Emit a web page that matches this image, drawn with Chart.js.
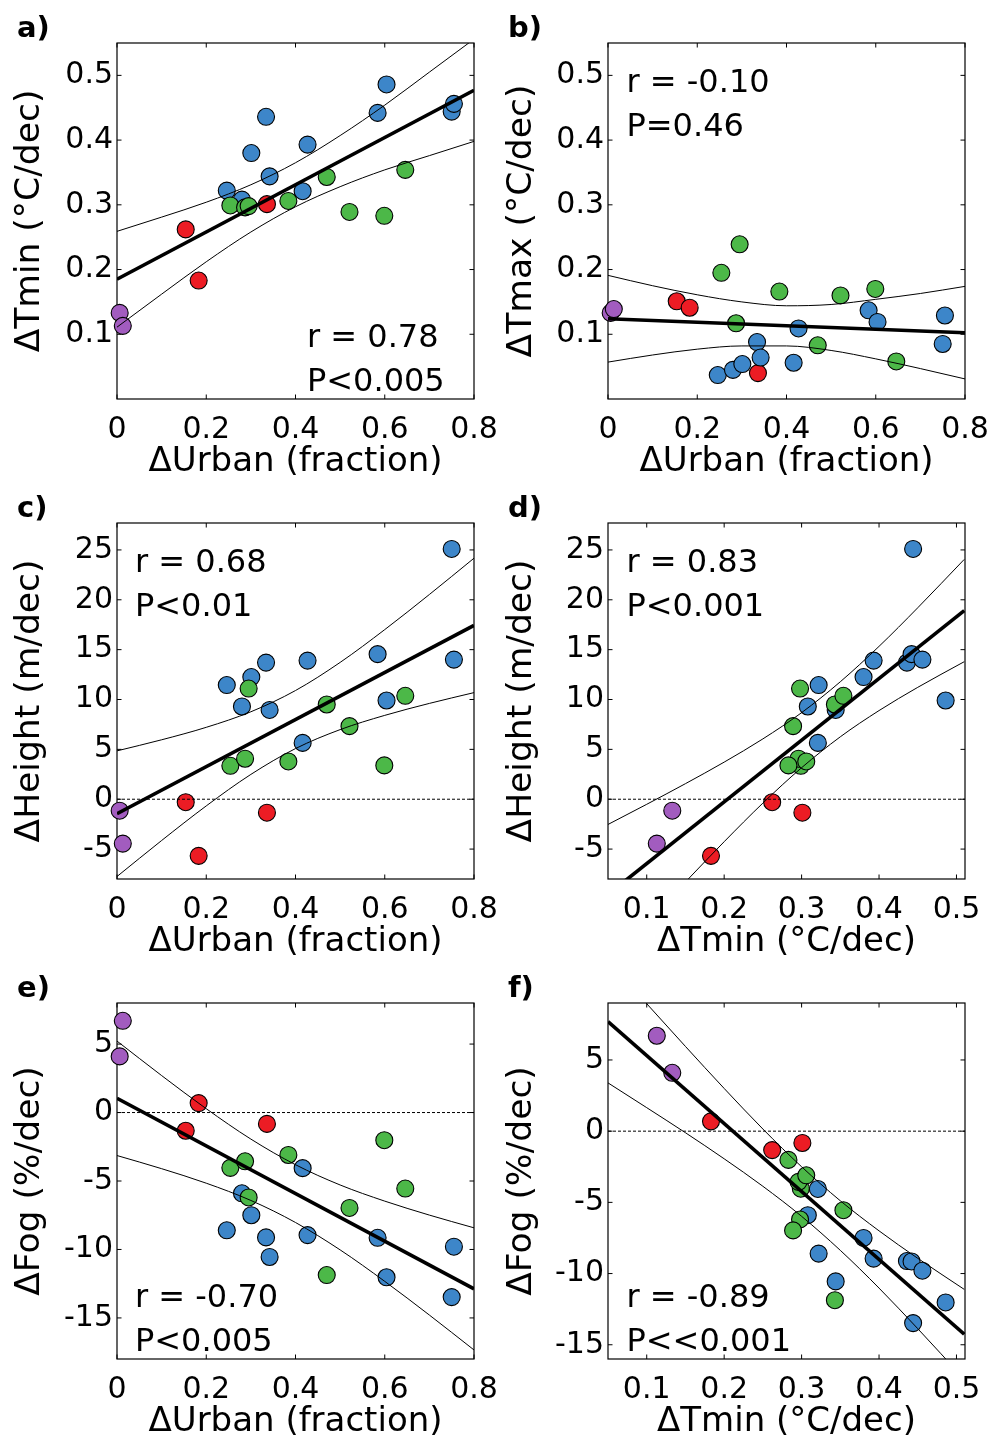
<!DOCTYPE html>
<html>
<head>
<meta charset="utf-8">
<script src="https://cdn.jsdelivr.net/npm/chart.js@4.4.1/dist/chart.umd.min.js"></script>
<style>
    html, body { margin: 0; padding: 0; background: #fff; }
    #wrap { position: relative; width: 994px; height: 1445px; overflow: hidden; }
    .panel { position: absolute; width: 500px; height: 480px; }
</style>
</head>
<body>
<div id="wrap">
    <div class="panel" style="left:0;top:0"><canvas id="chartA" width="500" height="480"></canvas></div>
    <div class="panel" style="left:492px;top:0"><canvas id="chartB" width="500" height="480"></canvas></div>
    <div class="panel" style="left:0;top:480px"><canvas id="chartC" width="500" height="480"></canvas></div>
    <div class="panel" style="left:492px;top:480px"><canvas id="chartD" width="500" height="480"></canvas></div>
    <div class="panel" style="left:0;top:960px"><canvas id="chartE" width="500" height="480"></canvas></div>
    <div class="panel" style="left:492px;top:960px"><canvas id="chartF" width="500" height="480"></canvas></div>
</div>
<script>
// --- STATION DATA (one entry per station, same order in every array) ---
const group  = ['P','P','R','R','R','B','B','B','B','B','B','B','B','B','B','B','G','G','G','G','G','G','G','G'];
const urban  = [0.006, 0.013, 0.154, 0.183, 0.336, 0.246, 0.280, 0.301, 0.334, 0.342, 0.416, 0.427, 0.584, 0.604, 0.750, 0.755, 0.254, 0.287, 0.295, 0.384, 0.470, 0.521, 0.599, 0.646];
const tmin   = [0.133, 0.113, 0.262, 0.183, 0.301, 0.322, 0.308, 0.380, 0.436, 0.344, 0.321, 0.393, 0.442, 0.486, 0.444, 0.456, 0.299, 0.296, 0.298, 0.306, 0.343, 0.289, 0.283, 0.354];
const tmax   = [0.133, 0.139, 0.151, 0.141, 0.040, 0.037, 0.045, 0.054, 0.088, 0.064, 0.056, 0.109, 0.137, 0.119, 0.085, 0.129, 0.195, 0.117, 0.239, 0.166, 0.083, 0.160, 0.170, 0.058];
const height = [-1.15, -4.45, -0.3, -5.68, -1.35, 11.45, 9.3, 12.25, 13.7, 8.95, 5.65, 13.9, 14.55, 9.9, 25.1, 14.0, 3.35, 4.06, 11.1, 3.79, 9.5, 7.33, 3.39, 10.37];
const fog    = [4.1, 6.7, -1.33, 0.69, -0.83, -8.6, -5.9, -7.5, -9.12, -10.55, -4.06, -8.95, -9.15, -12.03, -13.48, -9.8, -4.04, -3.56, -6.2, -3.1, -11.87, -6.97, -2.02, -5.55];

// --- REGRESSION LINES AND CONFIDENCE BANDS ---
const urbanGrid = [0, 0.1, 0.2, 0.3, 0.4, 0.5, 0.6, 0.7, 0.8];
const tminGrid  = [0.05, 0.1, 0.15, 0.2, 0.25, 0.3, 0.35, 0.4, 0.45, 0.51];
const urbanEnds = [0, 0.8];
const tminEnds  = [0.05, 0.51];

const fitA = [0.185, 0.477];
const upA  = [0.259, 0.281, 0.304, 0.331, 0.365, 0.407, 0.454, 0.505, 0.556];
const loA  = [0.111, 0.162, 0.212, 0.258, 0.297, 0.328, 0.354, 0.376, 0.398];

const fitB = [0.124, 0.1024];
const upB  = [0.191, 0.175, 0.161, 0.150, 0.144, 0.146, 0.154, 0.163, 0.174];
const loB  = [0.057, 0.068, 0.077, 0.082, 0.082, 0.075, 0.062, 0.047, 0.031];

const fitC = [-1.45, 17.43];
const upC  = [4.85, 5.96, 7.21, 8.77, 10.90, 13.72, 17.01, 20.53, 24.17];
const loC  = [-7.75, -4.14, -0.67, 2.49, 5.08, 6.98, 8.41, 9.61, 10.69];

const fitD = [-9.55, 18.92];
const upD  = [-2.53, -0.51, 1.56, 3.72, 6.05, 8.68, 11.78, 15.33, 19.20, 24.05];
const loD  = [-16.57, -12.41, -8.30, -4.26, -0.39, 3.16, 6.26, 8.89, 11.22, 13.79];

const fitE = [1.04, -12.88];
const upE  = [5.22, 2.70, 0.28, -1.94, -3.81, -5.29, -6.47, -7.49, -8.42];
const loE  = [-3.14, -4.10, -5.16, -6.42, -8.03, -10.03, -12.33, -14.79, -17.34];

const fitF = [7.69, -14.26];
const upF  = [11.99, 8.95, 5.95, 3.00, 0.15, -2.50, -4.89, -7.00, -8.93, -11.11];
const loF  = [3.39, 1.65, -0.11, -1.94, -3.87, -5.98, -8.37, -11.02, -13.87, -17.41];

// --- AXES ---
const urbanTicks  = [0, 0.2, 0.4, 0.6, 0.8];
const tminXTicks  = [0.1, 0.2, 0.3, 0.4, 0.5];
const tempYTicks  = [0.1, 0.2, 0.3, 0.4, 0.5];
const heightTicks = [-5, 0, 5, 10, 15, 20, 25];
const fogTicksE   = [-15, -10, -5, 0, 5];
const fogTicksF   = [-15, -10, -5, 0, 5];

const colors = { P: '#a25cbf', R: '#ec1c24', B: '#3d86c9', G: '#4cb848' };
const FONT = '"DejaVu Sans", Verdana, sans-serif';

Chart.defaults.font.family = FONT;
Chart.defaults.color = '#000';

// frame, inward ticks, stats text and panel letter
const framePlugin = {
    id: 'frame',
    beforeDatasetsDraw(chart) {
        const { ctx, chartArea: a, scales: { x, y } } = chart;
        ctx.save();
        ctx.strokeStyle = '#000';
        ctx.lineWidth = 1.2;
        ctx.strokeRect(a.left, a.top, a.right - a.left, a.bottom - a.top);
        ctx.lineWidth = 1;
        ctx.beginPath();
        x.ticks.forEach(t => {
            const px = x.getPixelForValue(t.value);
            ctx.moveTo(px, a.bottom); ctx.lineTo(px, a.bottom - 4.5);
            ctx.moveTo(px, a.top); ctx.lineTo(px, a.top + 4.5);
        });
        y.ticks.forEach(t => {
            const py = y.getPixelForValue(t.value);
            ctx.moveTo(a.left, py); ctx.lineTo(a.left + 4.5, py);
            ctx.moveTo(a.right, py); ctx.lineTo(a.right - 4.5, py);
        });
        ctx.stroke();
        ctx.restore();
    },
    afterDraw(chart, args, opts) {
        const { ctx, chartArea: a } = chart;
        ctx.save();
        ctx.fillStyle = '#000';
        ctx.textBaseline = 'alphabetic';
        ctx.textAlign = 'left';
        ctx.font = 'bold 29px ' + FONT;
        ctx.fillText(opts.label, a.left - 100, a.top - 6);
        ctx.font = '32px ' + FONT;
        ctx.fillText(opts.notes[0], a.left + opts.noteX, a.top + opts.noteY);
        ctx.fillText(opts.notes[1], a.left + opts.noteX, a.top + opts.noteY + 43.5);
        ctx.restore();
    }
};

function makePanel(id, p) {
    const points = p.xs.map((v, i) => ({ x: v, y: p.ys[i] }));
    const curve = (xs, ys) => xs.map((v, i) => ({ x: v, y: ys[i] }));

    const datasets = [
        {   // regression
            type: 'line', data: curve(p.ends, p.fit), borderColor: '#000', borderWidth: 3.6,
            pointRadius: 0, fill: false, order: 0, clip: 0
        },
        {
            type: 'line', data: curve(p.grid, p.up), borderColor: '#000', borderWidth: 1,
            pointRadius: 0, fill: false, cubicInterpolationMode: 'monotone', order: 0, clip: 0
        },
        {
            type: 'line', data: curve(p.grid, p.lo), borderColor: '#000', borderWidth: 1,
            pointRadius: 0, fill: false, cubicInterpolationMode: 'monotone', order: 0, clip: 0
        },
        {   // stations
            type: 'scatter', data: points,
            backgroundColor: group.map(g => colors[g]),
            borderColor: '#000', borderWidth: 1.1, pointRadius: 8.5,
            order: 2, clip: false
        }
    ];
    if (p.zero) {
        datasets.push({
            type: 'line', data: curve([p.xMin, p.xMax], [0, 0]), borderColor: '#000', borderWidth: 1,
            borderDash: [3, 2], pointRadius: 0, fill: false, order: 1, clip: 0
        });
    }

    new Chart(document.getElementById(id), {
        type: 'scatter',
        data: { datasets },
        plugins: [framePlugin],
        options: {
            responsive: false,
            animation: false,
            events: [],
            layout: { padding: { left: 0, top: 43, right: p.padRight, bottom: 0 } },
            plugins: {
                legend: { display: false },
                tooltip: { enabled: false },
                frame: { label: p.label, notes: p.notes, noteX: p.noteX, noteY: p.noteY }
            },
            scales: {
                x: {
                    type: 'linear', min: p.xMin, max: p.xMax,
                    afterBuildTicks: s => { s.ticks = p.xTicks.map(v => ({ value: v })); },
                    // fixed box: no extra room for overhanging labels
                    afterFit: s => { s.height = 81; s.paddingLeft = 0; s.paddingRight = 0; },
                    ticks: { font: { size: 30 }, color: '#000', padding: 13, maxRotation: 0, autoSkip: false, callback: v => String(v) },
                    grid: { display: false, drawTicks: false },
                    border: { display: false },
                    title: { display: true, text: p.xTitle, color: '#000', font: { size: 34, lineHeight: 1 }, padding: { top: 0, bottom: 1 } }
                },
                y: {
                    type: 'linear', min: p.yMin, max: p.yMax,
                    afterBuildTicks: s => { s.ticks = p.yTicks.map(v => ({ value: v })); },
                    afterFit: s => { s.width = p.yWidth; s.paddingTop = 0; s.paddingBottom = 0; },
                    ticks: { font: { size: 30 }, color: '#000', padding: 4, autoSkip: false, callback: v => String(v) },
                    grid: { display: false, drawTicks: false },
                    border: { display: false },
                    title: { display: true, text: p.yTitle, color: '#000', font: { size: 34.5, lineHeight: 1 }, padding: { top: 13, bottom: 0 } }
                }
            }
        }
    });
}

const urbanTitle = 'ΔUrban (fraction)';
const tminTitle = 'ΔTmin (°C/dec)';

makePanel('chartA', {
    label: 'a)', xs: urban, ys: tmin, xMin: 0, xMax: 0.8, yMin: 0, yMax: 0.55,
    xTicks: urbanTicks, yTicks: tempYTicks, xTitle: urbanTitle, yTitle: tminTitle,
    ends: urbanEnds, fit: fitA, grid: urbanGrid, up: upA, lo: loA,
    notes: ['r = 0.78', 'P<0.005'], noteX: 190, noteY: 304, yWidth: 117, padRight: 26
});
makePanel('chartB', {
    label: 'b)', xs: urban, ys: tmax, xMin: 0, xMax: 0.8, yMin: 0, yMax: 0.55,
    xTicks: urbanTicks, yTicks: tempYTicks, xTitle: urbanTitle, yTitle: 'ΔTmax (°C/dec)',
    ends: urbanEnds, fit: fitB, grid: urbanGrid, up: upB, lo: loB,
    notes: ['r = -0.10', 'P=0.46'], noteX: 18.5, noteY: 49, yWidth: 116, padRight: 27
});
makePanel('chartC', {
    label: 'c)', xs: urban, ys: height, xMin: 0, xMax: 0.8, yMin: -8, yMax: 27.7, zero: true,
    xTicks: urbanTicks, yTicks: heightTicks, xTitle: urbanTitle, yTitle: 'ΔHeight (m/dec)',
    ends: urbanEnds, fit: fitC, grid: urbanGrid, up: upC, lo: loC,
    notes: ['r = 0.68', 'P<0.01'], noteX: 18, noteY: 49, yWidth: 117, padRight: 26
});
makePanel('chartD', {
    label: 'd)', xs: tmin, ys: height, xMin: 0.05, xMax: 0.511, yMin: -8, yMax: 27.7, zero: true,
    xTicks: tminXTicks, yTicks: heightTicks, xTitle: tminTitle, yTitle: 'ΔHeight (m/dec)',
    ends: tminEnds, fit: fitD, grid: tminGrid, up: upD, lo: loD,
    notes: ['r = 0.83', 'P<0.001'], noteX: 18.5, noteY: 49, yWidth: 116, padRight: 27
});
makePanel('chartE', {
    label: 'e)', xs: urban, ys: fog, xMin: 0, xMax: 0.8, yMin: -18, yMax: 8, zero: true,
    xTicks: urbanTicks, yTicks: fogTicksE, xTitle: urbanTitle, yTitle: 'ΔFog (%/dec)',
    ends: urbanEnds, fit: fitE, grid: urbanGrid, up: upE, lo: loE,
    notes: ['r = -0.70', 'P<0.005'], noteX: 18, noteY: 304, yWidth: 117, padRight: 26
});
makePanel('chartF', {
    label: 'f)', xs: tmin, ys: fog, xMin: 0.05, xMax: 0.511, yMin: -16, yMax: 9, zero: true,
    xTicks: tminXTicks, yTicks: fogTicksF, xTitle: tminTitle, yTitle: 'ΔFog (%/dec)',
    ends: tminEnds, fit: fitF, grid: tminGrid, up: upF, lo: loF,
    notes: ['r = -0.89', 'P<<0.001'], noteX: 18.5, noteY: 304, yWidth: 116, padRight: 27
});
</script>
</body>
</html>
